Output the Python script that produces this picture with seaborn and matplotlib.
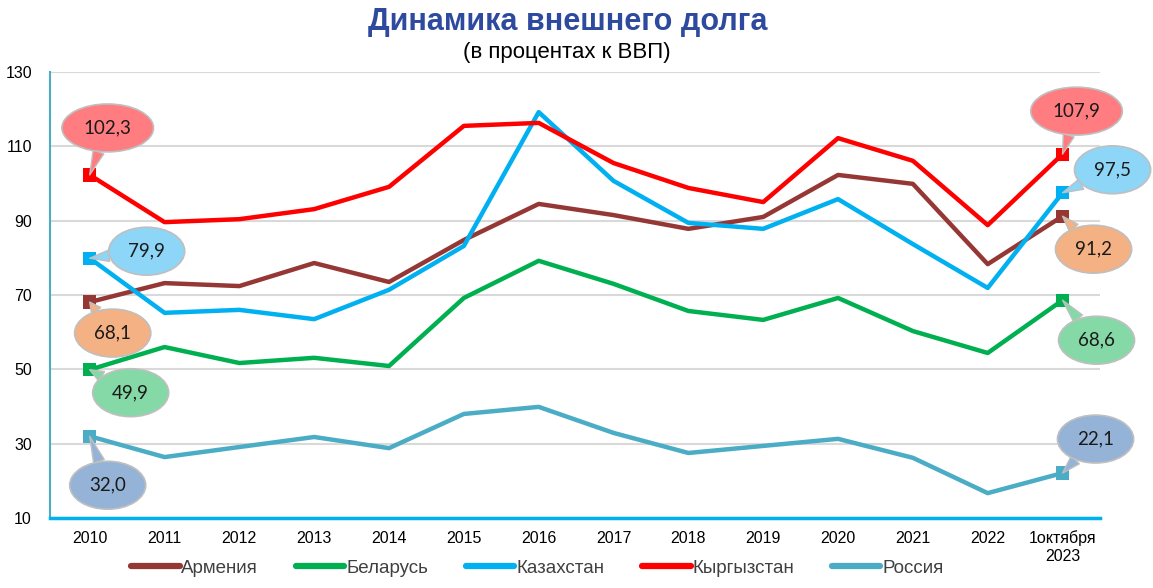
import numpy as np
import pandas as pd
import matplotlib
matplotlib.use("Agg")
import matplotlib.pyplot as plt
import seaborn as sns

# Data
years = ["2010", "2011", "2012", "2013", "2014", "2015", "2016", "2017",
         "2018", "2019", "2020", "2021", "2022", "1октября\n2023"]
armenia = [68.1, 73.2, 72.4, 78.6, 73.5, 84.8, 94.5, 91.5, 87.8, 91.0, 102.3, 99.9, 78.3, 91.2]
belarus = [49.9, 56.0, 51.7, 53.1, 50.9, 69.2, 79.2, 73.0, 65.7, 63.3, 69.2, 60.3, 54.4, 68.6]
kazakhstan = [79.9, 65.2, 66.0, 63.5, 71.4, 83.2, 119.2, 100.7, 89.4, 87.8, 95.8, 83.7, 71.9, 97.5]
kyrgyzstan = [102.3, 89.6, 90.4, 93.1, 99.1, 115.5, 116.3, 105.5, 98.8, 95.0, 112.2, 106.1, 88.8, 107.9]
russia = [32.0, 26.4, 29.1, 31.8, 28.8, 38.0, 39.9, 32.9, 27.5, 29.4, 31.3, 26.2, 16.7, 22.1]

countries = ["Армения", "Беларусь", "Казахстан", "Кыргызстан", "Россия"]
series = [armenia, belarus, kazakhstan, kyrgyzstan, russia]
line_colors = ["#953735", "#00B050", "#00B0F0", "#FF0000", "#4BACC6"]
bubble_colors = ["#F4B183", "#85D9A6", "#8ED6F7", "#FF7C80", "#95B3D7"]

rows = []
for name, vals in zip(countries, series):
    for i, v in enumerate(vals):
        rows.append({"idx": i, "country": name, "value": v})
df = pd.DataFrame(rows)

sns.set_style("white")
plt.rcParams["font.family"] = ["Liberation Sans", "DejaVu Sans"]

fig = plt.figure(figsize=(11.53, 5.88), dpi=100)
ax = fig.add_axes([0.0434, 0.119, 0.9106, 0.7586])

palette = dict(zip(countries, line_colors))
sns.lineplot(data=df, x="idx", y="value", hue="country", palette=palette,
             linewidth=3.2, ax=ax, legend=True)

# square markers on first and last points
ends = df[df["idx"].isin([0, len(years) - 1])]
sns.scatterplot(data=ends, x="idx", y="value", hue="country", palette=palette,
                marker="s", s=90, edgecolor="none", ax=ax, legend=False, zorder=5)

# callouts: (series index, point index, offset x px, offset y px)
callouts = [
    (3, 0, 18, 47), (2, 0, 57, 7), (0, 0, 23, -31), (1, 0, 41, -23), (4, 0, 18, -49),
    (3, 13, 14, 43), (2, 13, 50, 23), (0, 13, 31, -33), (1, 13, 34, -40), (4, 13, 33, 34),
]
for si, pi, dx, dy in callouts:
    v = series[si][pi]
    label = f"{v:.1f}".replace(".", ",")
    ax.annotate(label, xy=(pi, v), xytext=(dx, dy), textcoords="offset pixels",
                ha="center", va="center", fontsize=13.5, family="Lato", color="#1a1a1a",
                bbox=dict(boxstyle="ellipse,pad=0.45", fc=bubble_colors[si], ec="#BFBFBF", lw=1.2),
                arrowprops=dict(arrowstyle="wedge,tail_width=0.6,shrink_factor=0.5",
                                fc=bubble_colors[si], ec="#BFBFBF", lw=1.0,
                                shrinkA=0, shrinkB=0),
                zorder=6)

ax.set_xlim(-0.53, 13.5)
ax.set_ylim(10, 130)
ax.set_yticks(np.arange(10, 131, 20))
ax.set_xticks(range(len(years)))
ax.set_xticklabels(years)
ax.tick_params(axis="both", length=0, labelsize=11.5, colors="#000000")
ax.tick_params(axis="y", pad=13)
ax.tick_params(axis="x", pad=9)
ax.set_xlabel("")
ax.set_ylabel("")
ax.grid(axis="y", color="#D9D9D9", linewidth=1.5)
ax.set_axisbelow(True)
for s in ["top", "right"]:
    ax.spines[s].set_visible(False)
ax.spines["left"].set_color("#4BACC6")
ax.spines["left"].set_linewidth(1.5)
ax.spines["bottom"].set_color("#00B0F0")
ax.spines["bottom"].set_linewidth(2.5)

handles, labels = ax.get_legend_handles_labels()
ax.legend(handles, labels, loc="center", bbox_to_anchor=(0.464, -0.113), ncol=5,
          frameon=False, fontsize=13.5, handlelength=2.6, handletextpad=0.1,
          columnspacing=2.0, labelcolor="#404040", borderpad=0.1)
for line in ax.get_legend().get_lines():
    line.set_linewidth(4.5)

fig.text(0.492, 0.962, "Динамика внешнего долга", ha="center", va="center",
         fontsize=22, fontweight="bold", color="#2E4A9E")
fig.text(0.492, 0.910, "(в процентах к ВВП)", ha="center", va="center",
         fontsize=16, color="#000000")

fig.savefig("out.png", dpi=100)
